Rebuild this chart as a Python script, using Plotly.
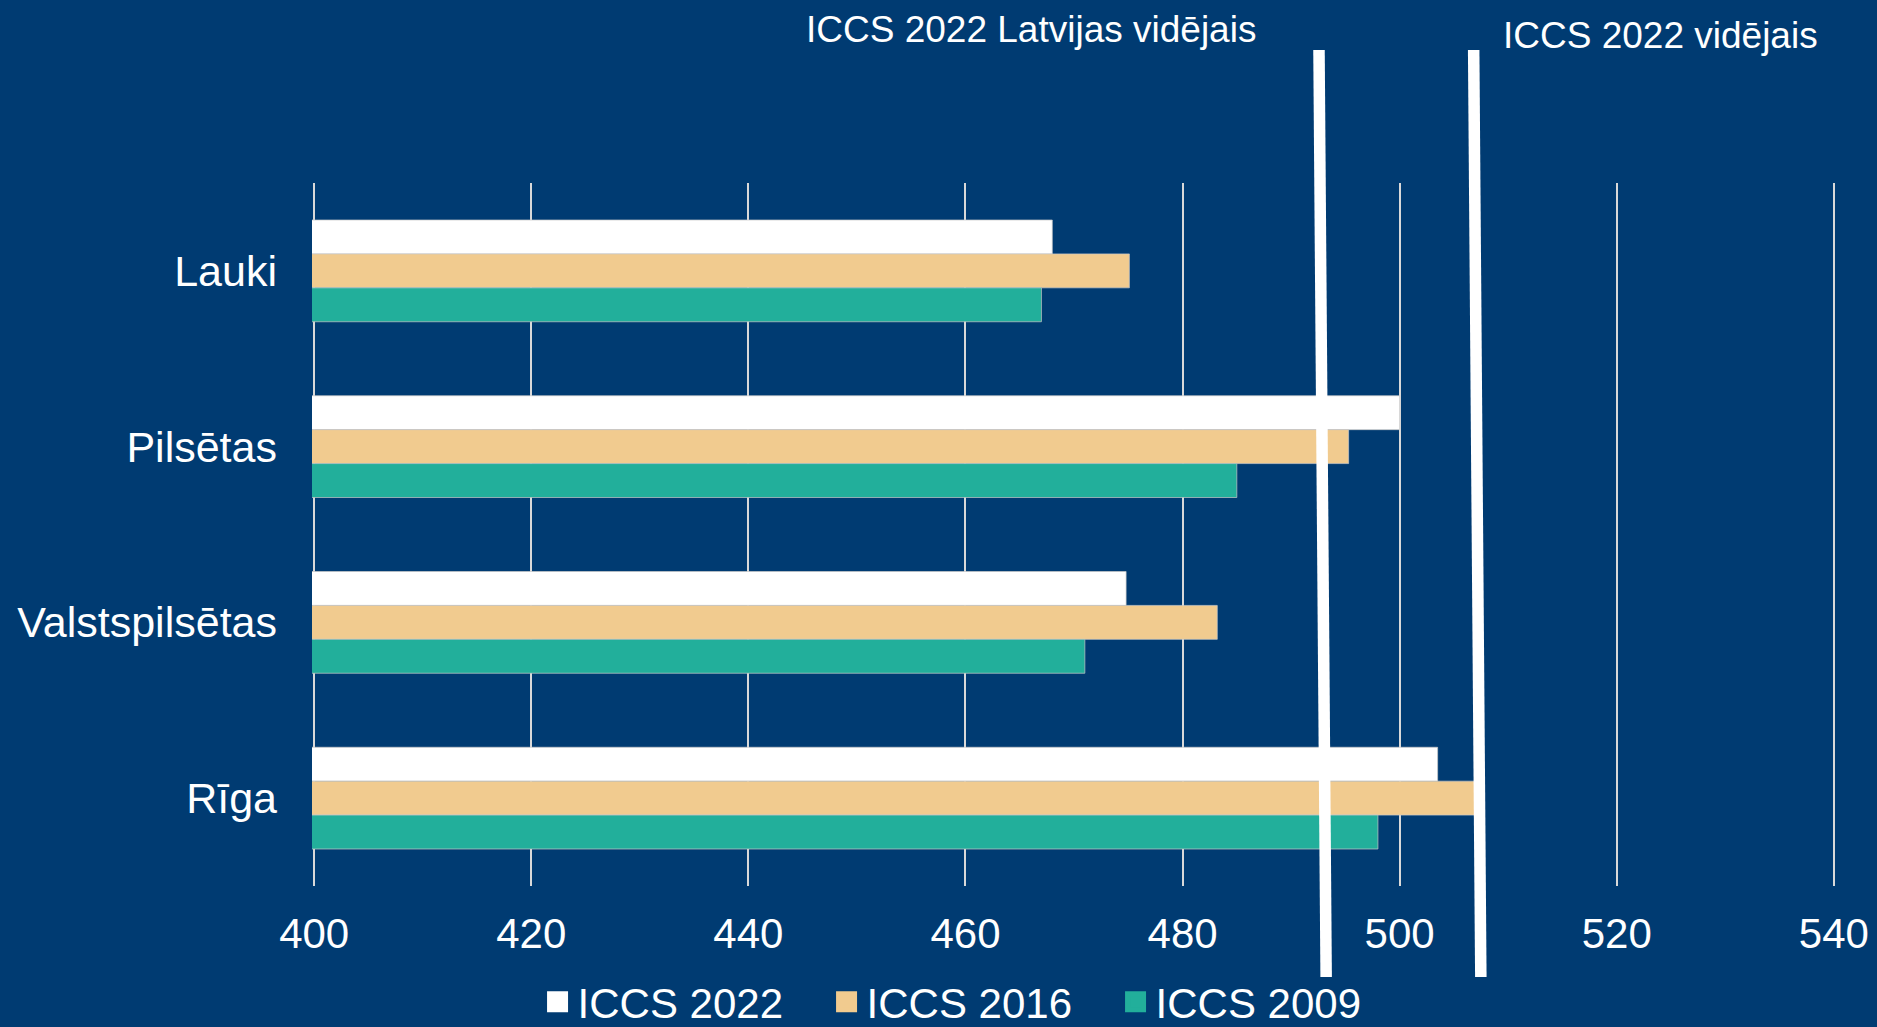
import plotly.graph_objects as go

# ---- data ----
categories = ["Lauki", "Pilsētas", "Valstspilsētas", "Rīga"]
series_names = ["ICCS 2022", "ICCS 2016", "ICCS 2009"]
iccs_2022 = [468.0, 500.0, 474.8, 503.5]
iccs_2016 = [475.1, 495.3, 483.2, 507.0]
iccs_2009 = [467.0, 485.0, 471.0, 498.0]
mean_values = [492.9, 507.15]
mean_labels = ["ICCS 2022 Latvijas vidējais", "ICCS 2022 vidējais"]
x_ticks = [400, 420, 440, 460, 480, 500, 520, 540]

# ---- style ----
BG = "#003B72"
colors = ["#FFFFFF", "#F1CB8F", "#22AF9B"]
FONT = "Arial, 'Liberation Sans', sans-serif"
tilt = 0.33  # slight slant of the hand-drawn mean lines (data units)

fig = go.Figure()
for name, vals, col in zip(series_names, [iccs_2022, iccs_2016, iccs_2009], colors):
    fig.add_trace(go.Bar(
        y=categories, x=vals, name=name, orientation="h", legendgroup=name,
        showlegend=False,
        marker=dict(color=col, line=dict(color="rgba(200,200,200,0.7)", width=1)),
    ))
# legend entries (square swatches)
for name, col in zip(series_names, colors):
    fig.add_trace(go.Scatter(
        x=[None], y=[None], mode="markers", name=name, legendgroup=name,
        marker=dict(symbol="square", size=16, color=col, line=dict(color=col, width=5)),
        hoverinfo="skip",
    ))

# mean lines (drawn over the bars, extending beyond the plot area)
for m in mean_values:
    fig.add_shape(type="line", xref="x", yref="paper",
                  x0=m - tilt, x1=m + tilt, y0=1.1892, y1=-0.1294,
                  line=dict(color="white", width=11.5), layer="above")

fig.add_annotation(x=mean_values[0], xref="x", y=1.219, yref="paper",
                   text=mean_labels[0], showarrow=False, xanchor="right",
                   yanchor="middle", xshift=-65,
                   font=dict(family=FONT, size=37, color="white"))
fig.add_annotation(x=mean_values[1], xref="x", y=1.2105, yref="paper",
                   text=mean_labels[1], showarrow=False, xanchor="left",
                   yanchor="middle", xshift=24,
                   font=dict(family=FONT, size=37, color="white"))

fig.update_layout(
    width=1877, height=1027,
    paper_bgcolor=BG, plot_bgcolor=BG,
    margin=dict(l=312, r=41, t=183, b=141, autoexpand=False),
    barmode="group", bargap=0.421, bargroupgap=0,
    font=dict(family=FONT, color="white", size=42),
    showlegend=True,
    legend=dict(orientation="h", x=0.1480, xanchor="left", y=-0.1650, yanchor="middle",
                font=dict(family=FONT, size=42, color="white"),
                bgcolor="rgba(0,0,0,0)", entrywidth=244, entrywidthmode="pixels",
                itemsizing="trace", traceorder="normal"),
    xaxis=dict(range=[399.8, 540.2], tickvals=x_ticks, showgrid=True,
               gridcolor="#D9D9D9", gridwidth=1.5, zeroline=False, showline=False,
               ticks="", tickfont=dict(family=FONT, size=42, color="white"),
               ticklabelstandoff=19),
    yaxis=dict(type="category", autorange="reversed", showgrid=False, zeroline=False,
               showline=False, ticks="", tickfont=dict(family=FONT, size=43, color="white"),
               ticklabelstandoff=34),
)

fig.write_html("out.html", config={"displayModeBar": False},
               post_script="document.body.style.margin='0';document.body.style.overflow='hidden';")
